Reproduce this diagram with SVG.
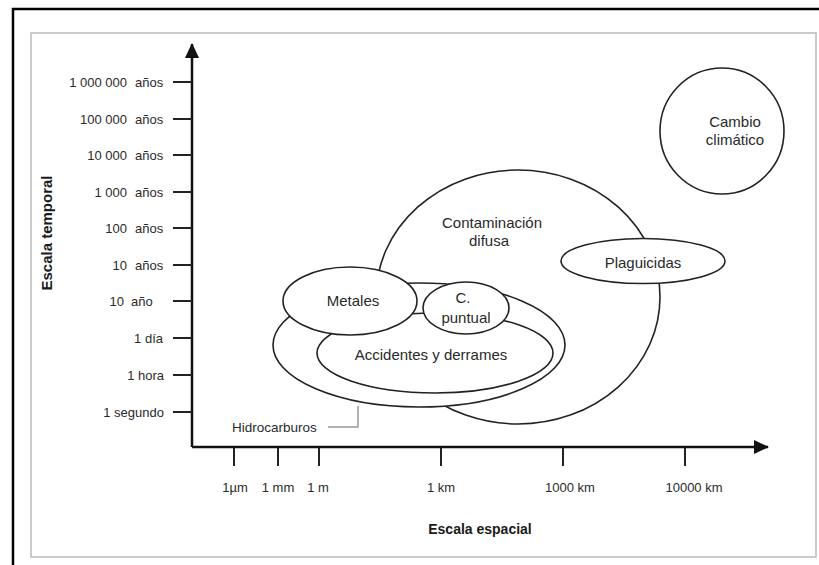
<svg xmlns="http://www.w3.org/2000/svg" width="819" height="565" viewBox="0 0 819 565">
<defs>
<style>
.lbl{font-family:"Liberation Sans",Arial,sans-serif;font-size:13px;fill:#2a2a2a}
.node{font-family:"Liberation Sans",Arial,sans-serif;font-size:15px;fill:#2a2a2a;text-anchor:middle}
.ax{font-family:"Liberation Sans",Arial,sans-serif;font-size:14px;font-weight:bold;fill:#1a1a1a;text-anchor:middle}
.ell{fill:#fff;stroke:#222;stroke-width:1.6}
.tick{stroke:#222;stroke-width:2}
</style>
<marker id="arr" markerWidth="15" markerHeight="14" refX="14" refY="7" orient="auto" markerUnits="userSpaceOnUse">
<path d="M0,0 L15,7 L0,14 Z" fill="#111"/>
</marker>
</defs>
<rect width="819" height="565" fill="#fff"/>
<path d="M13,565 V9 H819" fill="none" stroke="#000" stroke-width="2.5"/>
<rect x="31" y="33" width="785" height="524" fill="none" stroke="#bbb" stroke-width="1.5"/>

<g id="axes">
<line x1="192" y1="447" x2="192" y2="44" stroke="#111" stroke-width="2.5" marker-end="url(#arr)"/>
<line x1="192" y1="447" x2="768" y2="447" stroke="#111" stroke-width="2.5" marker-end="url(#arr)"/>
<g class="tick">
<line x1="173" y1="82" x2="192" y2="82"/>
<line x1="173" y1="119" x2="192" y2="119"/>
<line x1="173" y1="155" x2="192" y2="155"/>
<line x1="173" y1="192" x2="192" y2="192"/>
<line x1="173" y1="228" x2="192" y2="228"/>
<line x1="173" y1="265" x2="192" y2="265"/>
<line x1="173" y1="301" x2="192" y2="301"/>
<line x1="173" y1="338" x2="192" y2="338"/>
<line x1="173" y1="375" x2="192" y2="375"/>
<line x1="173" y1="412" x2="192" y2="412"/>
<line x1="234" y1="448" x2="234" y2="466"/>
<line x1="278" y1="448" x2="278" y2="466"/>
<line x1="319" y1="448" x2="319" y2="466"/>
<line x1="441" y1="448" x2="441" y2="466"/>
<line x1="563" y1="448" x2="563" y2="466"/>
<line x1="685" y1="448" x2="685" y2="466"/>
</g>
<g class="lbl">
<text x="127" y="86.5" text-anchor="end">1 000 000</text><text x="135" y="86.5">años</text>
<text x="127" y="123.5" text-anchor="end">100 000</text><text x="135" y="123.5">años</text>
<text x="127" y="159.5" text-anchor="end">10 000</text><text x="135" y="159.5">años</text>
<text x="127" y="196.5" text-anchor="end">1 000</text><text x="135" y="196.5">años</text>
<text x="127" y="232.5" text-anchor="end">100</text><text x="135" y="232.5">años</text>
<text x="127" y="269.5" text-anchor="end">10</text><text x="135" y="269.5">años</text>
<text x="124" y="305.5" text-anchor="end">10</text><text x="131" y="305.5">año</text>
<text x="163" y="342.5" text-anchor="end">1 día</text>
<text x="164" y="379.5" text-anchor="end">1 hora</text>
<text x="164" y="416.5" text-anchor="end">1 segundo</text>
<g text-anchor="middle">
<text x="235" y="491.5">1µm</text>
<text x="278" y="491.5">1 mm</text>
<text x="318" y="491.5">1 m</text>
<text x="441" y="491.5">1 km</text>
<text x="570" y="491.5">1000 km</text>
<text x="694" y="491.5">10000 km</text>
</g>
</g>
<text class="ax" x="480" y="534">Escala espacial</text>
<text class="ax" transform="translate(52,233) rotate(-90)" style="font-size:15px">Escala temporal</text>
</g>

<g id="contaminacion-difusa">
<ellipse class="ell" cx="518" cy="297" rx="142" ry="127"/>
<text class="node" x="492" y="228">Contaminación</text>
<text class="node" x="489" y="246">difusa</text>
</g>
<g id="hidrocarburos">
<ellipse class="ell" cx="419" cy="345" rx="146" ry="62"/>
<text class="lbl" x="232" y="432" style="font-size:13.5px">Hidrocarburos</text>
</g>
<g id="accidentes">
<ellipse class="ell" cx="435" cy="353" rx="118" ry="40"/>
<text class="node" x="431" y="360">Accidentes y derrames</text>
</g>
<g id="metales">
<ellipse class="ell" cx="350" cy="301" rx="67" ry="34"/>
<text class="node" x="353" y="306">Metales</text>
</g>
<g id="c-puntual">
<ellipse class="ell" cx="466" cy="308" rx="43" ry="26"/>
<text class="node" x="463" y="303">C.</text>
<text class="node" x="466" y="323">puntual</text>
</g>
<g id="plaguicidas">
<ellipse class="ell" cx="643" cy="261" rx="82" ry="22.5"/>
<text class="node" x="643" y="268">Plaguicidas</text>
</g>
<g id="cambio-climatico">
<ellipse class="ell" cx="722" cy="131" rx="62" ry="63"/>
<text class="node" x="735" y="127">Cambio</text>
<text class="node" x="735" y="145">climático</text>
</g>

<g id="connectors">
<path d="M328,427 H358 V406" fill="none" stroke="#999" stroke-width="1.5"/>
</g>
</svg>
